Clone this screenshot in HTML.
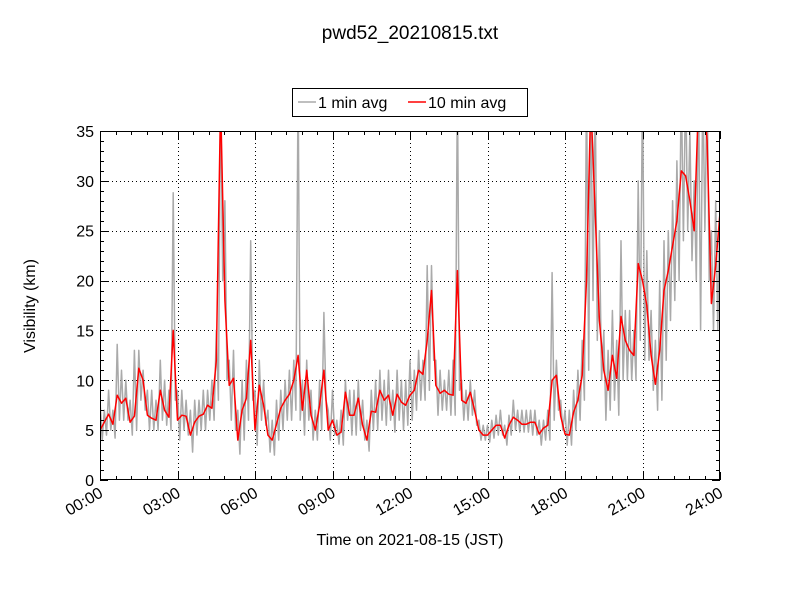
<!DOCTYPE html>
<html><head><meta charset="utf-8"><style>
body{margin:0;background:#fff;}
svg{display:block;font-family:"Liberation Sans","DejaVu Sans",sans-serif;}
</style></head><body>
<svg id="chart" width="800" height="600" viewBox="0 0 800 600">
<rect width="800" height="600" fill="#fff"/>
<text x="410" y="39" font-size="19" text-anchor="middle">pwd52_20210815.txt</text>
<g id="legend">
<rect x="292.5" y="88.5" width="235" height="28" fill="#fff" stroke="#000" stroke-width="1"/>
<g><line x1="298" y1="102" x2="316" y2="102" stroke="#aaa" stroke-width="1.5"/><text x="318" y="108" font-size="16">1 min avg</text></g>
<g><line x1="408" y1="102" x2="426" y2="102" stroke="#f00" stroke-width="1.5"/><text x="428" y="108" font-size="16">10 min avg</text></g>
</g>
<defs><clipPath id="pc"><rect x="100" y="131" width="620" height="349"/></clipPath></defs>
<g id="grid"></g>
<g id="series" clip-path="url(#pc)"></g>
<rect x="100.5" y="131.5" width="619" height="348" fill="none" stroke="#000" stroke-width="1"/>
<g id="axes"></g>
<text x="410" y="545" font-size="16" text-anchor="middle">Time on 2021-08-15 (JST)</text>
<text transform="translate(35,306) rotate(-90)" font-size="16" text-anchor="middle">Visibility (km)</text>
</svg>
<script>
const xTickLabels=["00:00","03:00","06:00","09:00","12:00","15:00","18:00","21:00","24:00"];
const yTickLabels=[0,5,10,15,20,25,30,35];
const avg10=[5.0,5.8,6.6,5.6,8.5,7.7,8.2,5.8,6.4,11.2,10.0,6.5,
6.2,6.0,9.0,7.0,6.3,15.0,6.0,6.5,6.4,4.5,5.8,6.4,
6.6,7.5,7.2,12,38,18,9.5,10.2,4.0,7.0,8.2,14,
5.0,9.5,7.5,4.5,4.0,5.6,7.2,8.0,8.6,10,12.5,7,
11,6.5,5.0,7.5,11.0,5.0,6.0,4.5,4.8,8.8,6.5,6.5,
8.2,5.5,4.0,6.9,6.8,9.0,8.0,8.5,6.5,8.6,7.8,7.5,
8.5,9.0,11.0,10.6,14,19.0,9.5,8.7,9.0,8.6,8.5,21.0,
8.0,7.7,8.8,7.0,5.0,4.5,4.5,5.0,5.5,5.5,4.2,5.5,
6.3,6.0,5.6,5.6,5.8,5.8,4.6,5.2,5.5,10,10.5,6.4,
4.6,4.5,6.8,8,10.5,20,38,27,16,11,9,12.5,
10.2,16.4,14,13,12.5,21.7,20,17.5,12.5,9.6,13,19,
21,23.5,26,31,30.5,28,25,38,40,34,17.7,21.5,26.8];
const min1High=[8,7,9,7,13.6,11,10,8,13,13,11,9,
9,8,12,10,9,28.8,9,9,8,7,8,8,
9,9,10,15,40,28,12,13,7,10,12,24,
9,12,10,7,6,8,9,10,11,12,40,10,
12,9,7,10,16.8,7,9,6,7,10,9,9,
10,8,6,9,10,11,10,11,9,11,10,10,
12,11,13,12,21.5,21.5,12,11,10,11,12,40,
10,9,10,9,6,5.5,5.5,6,6.5,7,5.5,6.5,
8,7,7,7,7,7,6,6,7,20.8,12,8,
7,7,9,11,14,40,40,40,25,15,13,17,
14,24,17,17,15,30,40,23,17,14,20,24,
25,28,32,40,40,35,30,40,40,40,25,28,28];
const min1Low=[4,4.5,5,4.2,6,6,6,4.5,5,8,7,5,
5,5,6,5.5,5,8,4,5,4.5,2.8,4.5,5,
5,6,6,8,20,10,6,5,2.6,4,6,8,
3.5,6,5.5,2.8,2.5,4,5,6,6,7,6,4.5,
6,4,4,5,8,4,4.5,3.6,3.5,6,4.5,4.5,
5,4,2.9,5,5,6,5.5,6,4.8,6,5,5.5,
6,7,8,8,9,12,6.5,7,7,6.5,6.5,9,
6,6,6.5,5.5,4,4,3.8,4.2,4.5,4.5,3.5,4.5,
5,4.8,4.8,4.8,4.5,4.5,3.5,4,4,6,7,5,
3.5,3.5,5,6,8,11,18,14,10,6,7,8,
6.5,10,10,10,10,14,12,12,9,7,8,12,
16,18,20,24,25,22,20,15,25,20,15,15,20];

const NS="http://www.w3.org/2000/svg";
const X0=100,X1=720,Y0=480,Y1=131,YMAX=35;
function xs(minutes){return X0+minutes/1440*(X1-X0);}
function ys(v){return Y0-v/YMAX*(Y0-Y1);}
function mk(tag,attrs,parent){const e=document.createElementNS(NS,tag);for(const k in attrs)e.setAttribute(k,attrs[k]);parent.appendChild(e);return e;}
const grid=document.getElementById('grid'),axes=document.getElementById('axes'),series=document.getElementById('series');
// grid + major ticks
xTickLabels.forEach((lab,i)=>{
  const x=Math.round(xs(i*180))+0.5;
  if(i>0&&i<xTickLabels.length-1){const g=mk('line',{x1:x,x2:x,y1:Y1,y2:Y0,stroke:'#000','stroke-width':1,'stroke-dasharray':'1,3'},grid);
  
  }
  mk('line',{x1:x,x2:x,y1:Y0,y2:Y0-8,stroke:'#000'},axes);
  mk('line',{x1:x,x2:x,y1:Y1,y2:Y1+8,stroke:'#000'},axes);
  const t=mk('text',{x:xs(i*180)+4,y:Y0+16,'font-size':16,'text-anchor':'end',transform:`rotate(-30 ${xs(i*180)+4} ${Y0+16})`},axes);
  t.textContent=lab;
  
  
});
for(let m=36;m<1440;m+=36){if(m%180===0)continue;const x=Math.round(xs(m))+0.5;
  mk('line',{x1:x,x2:x,y1:Y0,y2:Y0-4,stroke:'#000'},axes);mk('line',{x1:x,x2:x,y1:Y1,y2:Y1+4,stroke:'#000'},axes);}
yTickLabels.forEach(v=>{
  const y=Math.round(ys(v))+0.5;
  if(v>0&&v<YMAX){const g=mk('line',{x1:X0,x2:X1,y1:y,y2:y,stroke:'#000','stroke-width':1,'stroke-dasharray':'1,3'},grid);
  
  }
  mk('line',{x1:X0,x2:X0+8,y1:y,y2:y,stroke:'#000'},axes);
  mk('line',{x1:X1,x2:X1-8,y1:y,y2:y,stroke:'#000'},axes);
  const t=mk('text',{x:X0-6,y:ys(v)+6,'font-size':16,'text-anchor':'end'},axes);
  t.textContent=v;
  
  
});
for(let v=1;v<YMAX;v++){if(v%5===0)continue;const y=Math.round(ys(v))+0.5;
  mk('line',{x1:X0,x2:X0+4,y1:y,y2:y,stroke:'#000'},axes);mk('line',{x1:X1,x2:X1-4,y1:y,y2:y,stroke:'#000'},axes);}
// 1 min series
let pts=[];
for(let i=0;i<min1High.length;i++){
  pts.push(xs(i*10).toFixed(1)+','+ys(min1High[i]).toFixed(1));
  if(i<min1High.length-1) pts.push(xs(i*10+5).toFixed(1)+','+ys(min1Low[i]).toFixed(1));
}
const g1=mk('polyline',{points:pts.join(' '),fill:'none',stroke:'#aaa','stroke-width':1.5,'stroke-linejoin':'round'},series);


const r=mk('polyline',{points:avg10.map((v,i)=>xs(i*10).toFixed(1)+','+ys(v).toFixed(1)).join(' '),fill:'none',stroke:'#f00','stroke-width':1.5,'stroke-linejoin':'round'},series);


</script>
</body></html>
